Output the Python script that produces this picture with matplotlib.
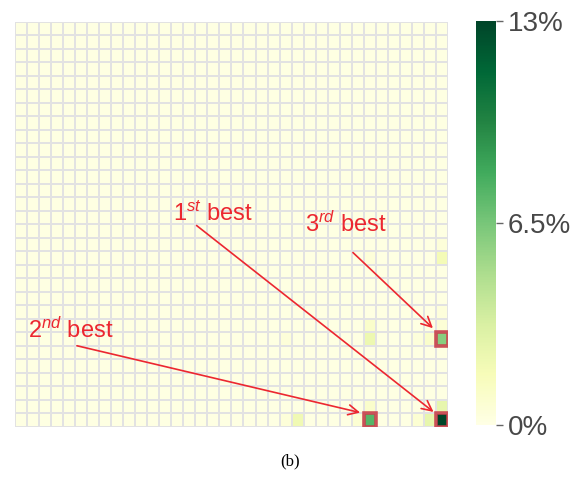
import matplotlib.pyplot as plt
import numpy as np
from matplotlib.patches import Rectangle

plt.rcParams['font.family'] = ['Liberation Sans', 'DejaVu Sans']
plt.rcParams['mathtext.fontset'] = 'custom'
plt.rcParams['mathtext.rm'] = 'Liberation Sans'
plt.rcParams['mathtext.it'] = 'Liberation Sans:italic'

n_rows, n_cols = 30, 36
base_val = 0.15  # faint tint of the empty cells

# non-zero cells (row from top, column from left, share in %)
cell_rows = [29, 29, 23, 28, 29, 23, 17, 29, 28, 22, 23, 29, 29, 23, 23, 29, 17, 22, 21, 16]
cell_cols = [35, 29, 35, 35, 34, 29, 35, 23, 29, 29, 34, 33, 28, 33, 22, 22, 29, 35, 35, 35]
cell_vals = [13.0, 7.5, 6.0, 2.5, 2.5, 2.2, 1.8, 2.0, 1.0, 1.0, 1.0, 0.7, 0.7, 0.4, 0.5, 0.5, 0.5, 0.6, 0.4, 0.5]

best_labels = ["1$^{st}$ best", "2$^{nd}$ best", "3$^{rd}$ best"]
best_cells = [(29, 35), (29, 29), (23, 35)]
label_xy = [(13.1, 14.75), (1.08, 23.4), (24.1, 15.6)]
arrow_from = [(15.1, 15.1), (5.15, 24.0), (28.1, 17.1)]
arrow_to = [(34.8, 28.9), (28.7, 28.95), (34.75, 22.7)]

grid = np.full((n_rows, n_cols), base_val)
for r, c, v in zip(cell_rows, cell_cols, cell_vals):
    grid[r, c] = v

fig = plt.figure(figsize=(5.81, 4.79), dpi=100)
ax = fig.add_axes([0.0258, 0.109, 0.7452, 0.846])
mesh = ax.pcolormesh(grid, cmap='YlGn', vmin=0, vmax=13,
                     edgecolors='#e2e2e2', linewidth=1.3)
ax.set_xlim(0, n_cols)
ax.set_ylim(n_rows, 0)
ax.set_xticks([])
ax.set_yticks([])
for s in ax.spines.values():
    s.set_visible(False)

for (r, c) in best_cells:
    ax.add_patch(Rectangle((c, r), 1, 1, fill=False, edgecolor='#c8404a',
                           linewidth=2.6, alpha=0.9, zorder=3))

for lab, pos, a, b in zip(best_labels, label_xy, arrow_from, arrow_to):
    ax.text(pos[0], pos[1], lab, color='#ec2730', fontsize=17, va='baseline', ha='left')
    ax.annotate('', xy=b, xytext=a,
                arrowprops=dict(arrowstyle='->', color='#ec2730', lw=1.2,
                                mutation_scale=18, shrinkA=0, shrinkB=0))

cax = fig.add_axes([0.819, 0.112, 0.035, 0.844])
cb = fig.colorbar(mesh, cax=cax, ticks=[0, 6.5, 13])
cb.ax.set_yticklabels(['0%', '6.5%', '13%'])
cb.outline.set_visible(False)
cb.ax.tick_params(labelsize=20, labelcolor='#484848', color='#666666', length=5, width=1)

fig.text(0.5, 0.028, '(b)', fontsize=12, family='Liberation Serif', ha='center')

fig.savefig('out.png', dpi=100)
